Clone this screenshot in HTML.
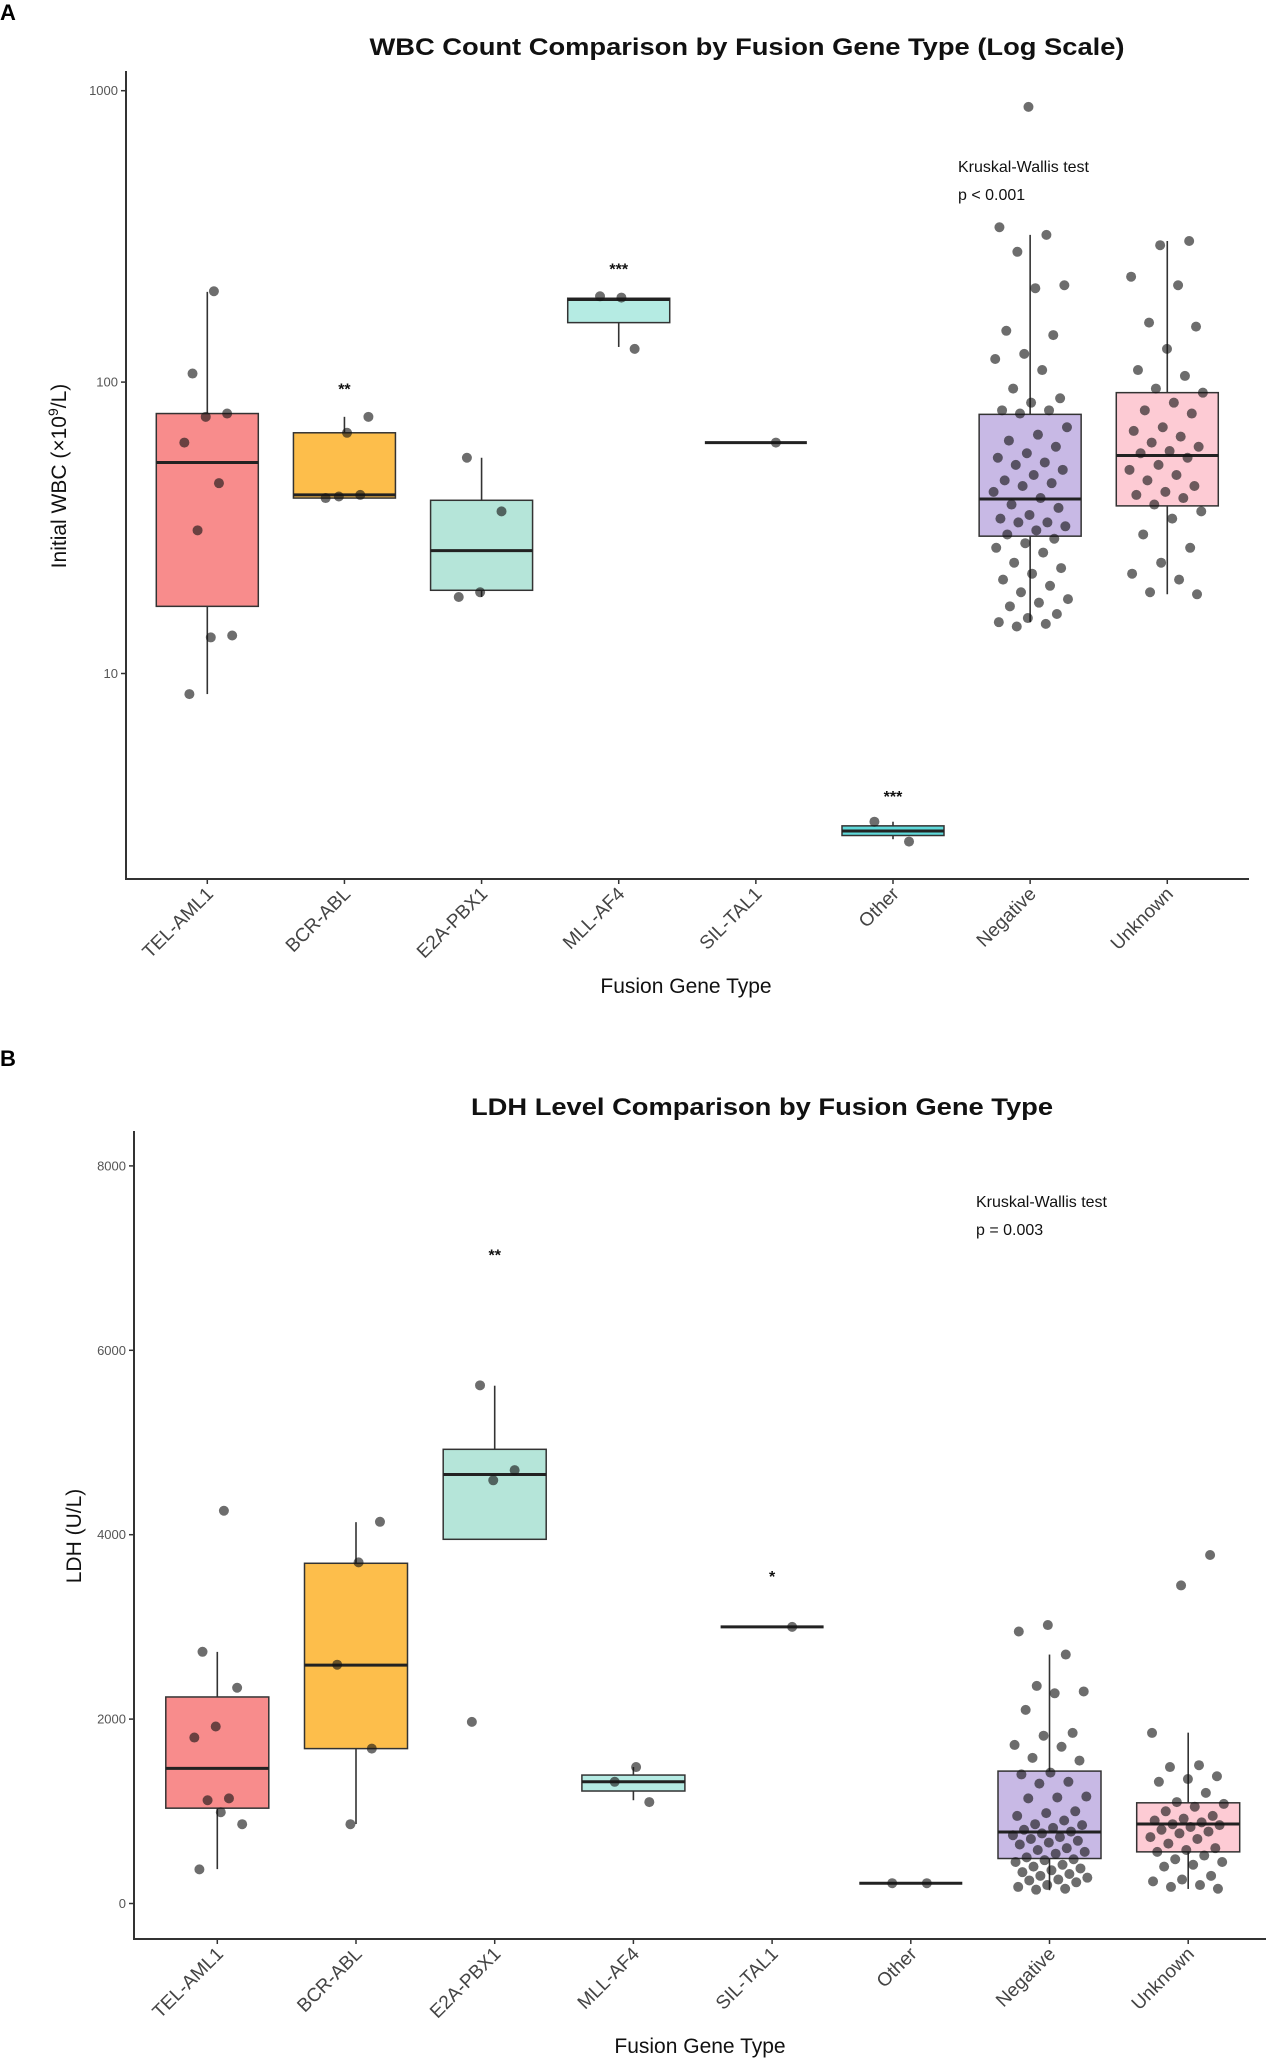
<!DOCTYPE html>
<html><head><meta charset="utf-8">
<style>
html,body{margin:0;padding:0;background:#fff;}
svg{display:block;font-family:"Liberation Sans",Arial,sans-serif;}
</style></head>
<body>
<svg id="fig" width="1276" height="2067" viewBox="0 0 1276 2067" xmlns="http://www.w3.org/2000/svg">
  <text x="0" y="20" font-size="22" font-weight="bold">A</text>
  <text x="0" y="1066" font-size="22" font-weight="bold">B</text>
  <g id="panelA"></g>
  <g id="panelB"></g>
</svg>
<script>
const categories = ["TEL-AML1","BCR-ABL","E2A-PBX1","MLL-AF4","SIL-TAL1","Other","Negative","Unknown"];
const fillColors = ["#f88c8c","#fdbe4b","#b5e5d9","#b5ebe3","#ffffff","#5fd9da","#c8b9e5","#fdcbd4"];

// Panel A: WBC (x10^9/L), log scale
const wbcLo  = [8.5, 40, 18.3, 132, 62, 2.7, 15, 18.7];
const wbcQ1  = [17, 40, 19.3, 160, 62, 2.78, 29.6, 37.6];
const wbcMed = [53, 41, 26.4, 192, 62, 2.88, 39.7, 56];
const wbcQ3  = [78, 67, 39.3, 194, 62, 3.0, 77.5, 92];
const wbcHi  = [204, 76, 55, 194, 62, 3.1, 320, 305];
const wbcPoints = [
  [205,107,78,76,62,45,31,13.5,13.3,8.5],
  [76,67,40,41,40.5],
  [55,36,19,18.3],
  [195,197,130],
  [62],
  [3.1,2.65],
  [880,340,320,280,215,210,150,145,125,120,110,95,88,85,80,80,78,70,66,63,60,57,55,53,52,50,48,46,45,44,42,40,38,37,35,34,33,33,32,31,30,29,28,27,26,24,23,22,21,20,19,18,17.5,17,16,15.5,15,14.8,14.5],
  [305,295,230,215,160,155,130,110,105,95,92,85,80,78,70,68,65,62,60,58,57,55,52,50,48,46,44,42,41,40,38,36,34,30,27,24,22,21,19,18.7]
];
const wbcSig = ["","**","","***","","***","",""];
const wbcSigValue = [0,95,0,245,0,3.8,0,0];
const wbcTicks = [10,100,1000];
const wbcTickLabels = ["10","100","1000"];

// Panel B: LDH (U/L), linear scale
const ldhLo  = [373, 862, 3950, 1120, 3000, 220, 144, 158];
const ldhQ1  = [1034, 1680, 3950, 1220, 3000, 220, 488, 560];
const ldhMed = [1465, 2585, 4653, 1321, 3000, 220, 776, 862];
const ldhQ3  = [2240, 3690, 4926, 1393, 3000, 220, 1436, 1092];
const ldhHi  = [2729, 4136, 5616, 1480, 3000, 220, 2700, 1853];
const ldhPoints = [
  [4260,2730,2340,1920,1800,1140,1120,860,990,370],
  [4140,3700,2590,1680,860],
  [5620,4700,4590,1970],
  [1480,1320,1100],
  [3000],
  [220,220],
  [3020,2950,2700,2360,2300,2280,2100,1850,1820,1720,1700,1580,1550,1420,1400,1320,1300,1160,1150,1140,1000,980,950,900,860,850,820,800,780,760,740,720,700,680,660,640,600,580,560,540,500,480,470,450,420,400,380,360,340,320,300,280,260,250,230,200,180,160,150],
  [3780,3450,1850,1500,1480,1380,1350,1320,1200,1100,1080,1050,1000,950,920,900,880,860,850,830,800,780,760,720,700,650,600,580,560,520,480,450,420,400,300,260,240,200,180,160]
];
const ldhSig = ["","","**","","*","","",""];
const ldhSigValue = [0,0,7040,0,3550,0,0,0];
const ldhTicks = [0,2000,4000,6000,8000];
const ldhTickLabels = ["0","2000","4000","6000","8000"];

const NS = "http://www.w3.org/2000/svg";
function mk(parent, tag, attrs, text){
  const e = document.createElementNS(NS, tag);
  for (const k in attrs) e.setAttribute(k, attrs[k]);
  if (text !== undefined) e.textContent = text;
  parent.appendChild(e);
  return e;
}

function drawPanel(g, cfg){
  const y = cfg.y, x = i => cfg.x0 + i*cfg.dx;
  const bw = cfg.bw;
  let t = mk(g,"text",{x:cfg.titleX,y:cfg.titleY,"text-anchor":"middle","font-size":24,"font-weight":"bold",fill:"#111",textLength:cfg.titleLen,lengthAdjust:"spacingAndGlyphs"},cfg.title);
  
  
  let ya = mk(g,"line",{x1:cfg.axL,y1:cfg.axTop,x2:cfg.axL,y2:cfg.axBot,stroke:"#333","stroke-width":2});
  
  
  let xa = mk(g,"line",{x1:cfg.axL-1,y1:cfg.axBot,x2:cfg.axR,y2:cfg.axBot,stroke:"#333","stroke-width":2});
  
  
  cfg.ticks.forEach((v,i)=>{
    const yy = y(v);
    mk(g,"line",{x1:cfg.axL-5,y1:yy,x2:cfg.axL,y2:yy,stroke:"#333","stroke-width":1.5});
    let tl = mk(g,"text",{x:cfg.axL-8,y:yy+4.5,"text-anchor":"end","font-size":13,fill:"#555"},cfg.tickLabels[i]);
    
    
  });
  categories.forEach((c,i)=>{
    const xx = x(i);
    mk(g,"line",{x1:xx,y1:cfg.axBot,x2:xx,y2:cfg.axBot+5,stroke:"#333","stroke-width":1.5});
    let cl = mk(g,"text",{x:xx+7,y:cfg.axBot+16,"text-anchor":"end","font-size":19,fill:"#444",transform:`rotate(-45 ${xx+7} ${cfg.axBot+16})`},c);
    
    
  });
  let xt = mk(g,"text",{x:cfg.xTitleX,y:cfg.xTitleY,"text-anchor":"middle","font-size":21,fill:"#111"},"Fusion Gene Type");
  
  
  let ytt = mk(g,"text",{x:0,y:0,"text-anchor":"middle","font-size":21,fill:"#111",transform:`translate(${cfg.yTitleX} ${cfg.yTitleY}) rotate(-90)`});
  ytt.innerHTML = cfg.yTitle;
  
  
  categories.forEach((c,i)=>{
    const xx = x(i);
    const bg = mk(g,"g",{});
    
    
    if (cfg.hi[i] > cfg.q3[i]) mk(bg,"line",{x1:xx,y1:y(cfg.hi[i]),x2:xx,y2:y(cfg.q3[i]),stroke:"#333","stroke-width":1.6});
    if (cfg.lo[i] < cfg.q1[i]) mk(bg,"line",{x1:xx,y1:y(cfg.q1[i]),x2:xx,y2:y(cfg.lo[i]),stroke:"#333","stroke-width":1.6});
    if (cfg.q3[i] > cfg.q1[i]) {
      mk(bg,"rect",{x:xx-bw/2,y:y(cfg.q3[i]),width:bw,height:Math.max(1,y(cfg.q1[i])-y(cfg.q3[i])),fill:fillColors[i],stroke:"#333","stroke-width":1.5});
    }
    mk(bg,"line",{x1:xx-bw/2,y1:y(cfg.med[i]),x2:xx+bw/2,y2:y(cfg.med[i]),stroke:"#222","stroke-width":3});
    const pts = cfg.points[i];
    const spread = pts.length > 20 ? 38 : 28;
    pts.forEach((v,k)=>{
      const j = (((k+1)*0.6180339 + i*0.31) % 1) - 0.5;
      const p = mk(bg,"circle",{cx:xx + j*2*spread, cy:y(v), r:5, fill:"rgba(20,20,20,0.62)"});
      
      
    });
    if (cfg.sig[i]) {
      let s = mk(g,"text",{x:xx,y:y(cfg.sigV[i])+6,"text-anchor":"middle","font-size":16,"font-weight":"bold",fill:"#111"},cfg.sig[i]);
      
      
    }
  });
  let k1 = mk(g,"text",{x:cfg.kwX,y:cfg.kwY,"font-size":16,fill:"#111"},"Kruskal-Wallis test");
  
  
  let k2 = mk(g,"text",{x:cfg.kwX,y:cfg.kwY+28,"font-size":16,fill:"#111"},cfg.pText);
  
  
}

drawPanel(document.getElementById("panelA"), {
  title:"WBC Count Comparison by Fusion Gene Type (Log Scale)", titleX:747, titleY:55, titleLen:755,
  y: v => 673.5 - (Math.log10(v)-1)*291.4,
  x0:207.3, dx:137.14, bw:102,
  axL:126, axR:1249, axTop:71, axBot:879,
  ticks:wbcTicks, tickLabels:wbcTickLabels,
  lo:wbcLo,q1:wbcQ1,med:wbcMed,q3:wbcQ3,hi:wbcHi,points:wbcPoints,sig:wbcSig,sigV:wbcSigValue,
  xTitleX:686, xTitleY:993, yTitleX:66, yTitleY:476,
  yTitle:'Initial WBC (×10<tspan baseline-shift="super" font-size="14">9</tspan>/L)',
  kwX:958, kwY:172, pText:"p < 0.001"
});
drawPanel(document.getElementById("panelB"), {
  title:"LDH Level Comparison by Fusion Gene Type", titleX:762, titleY:1115, titleLen:582,
  y: v => 1903.5 - v*0.0922,
  x0:217.3, dx:138.7, bw:103,
  axL:134, axR:1266, axTop:1131, axBot:1939,
  ticks:ldhTicks, tickLabels:ldhTickLabels,
  lo:ldhLo,q1:ldhQ1,med:ldhMed,q3:ldhQ3,hi:ldhHi,points:ldhPoints,sig:ldhSig,sigV:ldhSigValue,
  xTitleX:700, xTitleY:2053, yTitleX:81, yTitleY:1536,
  yTitle:'LDH (U/L)',
  kwX:976, kwY:1207, pText:"p = 0.003"
});
</script>
</body></html>
